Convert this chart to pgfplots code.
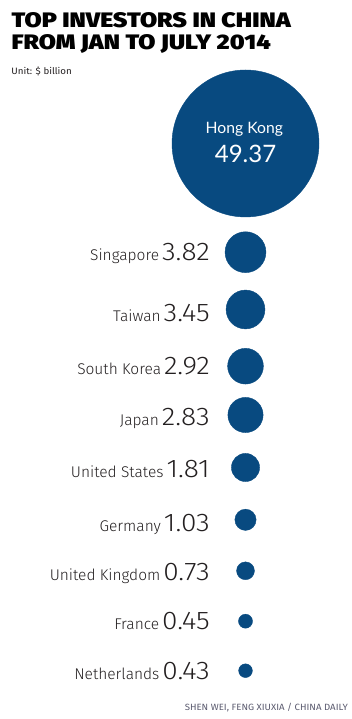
\documentclass[border=0pt]{standalone}
\usepackage{pgfplots}
\pgfplotsset{compat=1.18}
\usepackage{pgfplotstable}
\usepackage{graphicx}
\usepackage{fontspec}
\setmainfont{Fira Sans}
\newfontfamily\lightfont{Fira Sans Light}
\newfontfamily\titlefont{Fira Sans Black}
\newfontfamily\latofont{Lato}
\definecolor{hkblue}{RGB}{8,74,128}
\definecolor{txt}{RGB}{35,31,32}
\definecolor{credit}{RGB}{90,90,110}

% x, y = circle centre (layout, px from top), v = investment ($ billion)
\pgfplotstableread{
x y v
245.5 143.5 49.37
245.5 252.2 3.82
245.5 309.5 3.45
245.5 366.2 2.92
245.5 415.0 2.83
245.5 467.5 1.81
245.5 519.8 1.03
245.5 570.8 0.73
245.5 621.2 0.45
245.5 670.7 0.43
}\circles

\newcommand{\lbl}[2]{{\fontsize{15.5}{16}\selectfont #1}\hspace{3pt}\scalebox{1.1}[1]{\fontsize{25.5}{25}\selectfont #2}}

\begin{document}
\begin{tikzpicture}
\begin{axis}[
  width=352pt, height=719pt, scale only axis,
  xmin=0, xmax=352, ymin=0, ymax=719, y dir=reverse,
  hide axis, clip=false, set layers,
]
\path (axis cs:0,0) rectangle (axis cs:352,719);
\addplot[scatter, only marks, mark=*,
  scatter/use mapped color={draw=hkblue, fill=hkblue},
  visualization depends on={10.46*sqrt(\thisrow{v}) \as \rad},
  scatter/@pre marker code/.append style={/tikz/mark size=\rad pt}]
  table[x=x, y=y, meta=v] {\circles};

% title
\node[anchor=base west, inner sep=0, text=black] at (axis cs:11.5,27.3)
  {\resizebox{279pt}{15pt}{\titlefont TOP INVESTORS IN CHINA}};
\node[anchor=base west, inner sep=0, text=black] at (axis cs:11.5,49.3)
  {\resizebox{259pt}{15pt}{\titlefont FROM JAN TO JULY 2014}};
\node[anchor=base west, inner sep=0, text=txt] at (axis cs:11.3,75)
  {\resizebox{60.4pt}{7.6pt}{\fontsize{10}{12}\selectfont Unit: \$ billion}};

% Hong Kong label (above the circle)
\begin{pgfonlayer}{axis foreground}
\node[anchor=base, inner sep=0, text=white, font=\latofont] at (axis cs:244.3,134)
  {\fontsize{15.7}{16}\selectfont Hong Kong};
\node[anchor=base, inner sep=0, text=white, font=\latofont] at (axis cs:245.5,162.3)
  {\fontsize{24}{24}\selectfont 49.37};
\end{pgfonlayer}

% row labels
\begin{scope}[every node/.style={anchor=base east, inner sep=0, text=txt, font=\lightfont}]
\node at (axis cs:210,261.0) {\lbl{Singapore}{3.82}};
\node at (axis cs:210,321.7) {\lbl{Taiwan}{3.45}};
\node at (axis cs:210,374.3) {\lbl{South Korea}{2.92}};
\node at (axis cs:210,425.7) {\lbl{Japan}{2.83}};
\node at (axis cs:210,477.3) {\lbl{United States}{1.81}};
\node at (axis cs:210,531.7) {\lbl{Germany}{1.03}};
\node at (axis cs:210,581.0) {\lbl{United Kingdom}{0.73}};
\node at (axis cs:210,630.0) {\lbl{France}{0.45}};
\node at (axis cs:210,680.0) {\lbl{Netherlands}{0.43}};
\end{scope}

% credit
\node[anchor=base east, inner sep=0, text=credit] at (axis cs:348,710.7)
  {\resizebox{163pt}{7.3pt}{SHEN WEI, FENG XIUXIA / CHINA DAILY}};
\end{axis}
\end{tikzpicture}
\end{document}
